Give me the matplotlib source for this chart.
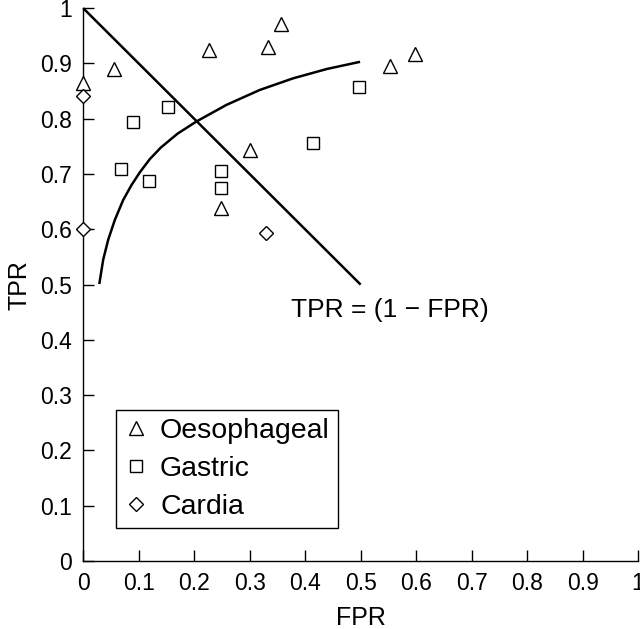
import matplotlib
matplotlib.use("Agg")
import matplotlib.pyplot as plt
from matplotlib.lines import Line2D

plt.rcParams['font.family'] = ['Liberation Sans', 'DejaVu Sans']

# ---- data ----
oeso_fpr = [0.0, 0.056, 0.227, 0.333, 0.356, 0.300, 0.249, 0.553, 0.598]
oeso_tpr = [0.864, 0.890, 0.925, 0.929, 0.972, 0.744, 0.638, 0.896, 0.917]

gastric_fpr = [0.153, 0.089, 0.069, 0.119, 0.249, 0.249, 0.414, 0.497]
gastric_tpr = [0.822, 0.794, 0.709, 0.688, 0.706, 0.674, 0.756, 0.857]

cardia_fpr = [0.0, 0.0, 0.330]
cardia_tpr = [0.841, 0.600, 0.594]

curve_fpr = [0.029, 0.036, 0.045, 0.057, 0.072, 0.087, 0.102, 0.120, 0.140,
             0.170, 0.204, 0.258, 0.318, 0.378, 0.439, 0.499]
curve_tpr = [0.501, 0.545, 0.581, 0.617, 0.653, 0.680, 0.703, 0.727, 0.748,
             0.773, 0.795, 0.825, 0.852, 0.873, 0.890, 0.903]

line_fpr = [0.0, 0.5]
line_tpr = [1.0, 0.5]

tick_vals = [0, 0.1, 0.2, 0.3, 0.4, 0.5, 0.6, 0.7, 0.8, 0.9, 1]
tick_labels = ['0', '0.1', '0.2', '0.3', '0.4', '0.5', '0.6', '0.7', '0.8', '0.9', '1']

# ---- figure ----
fig = plt.figure(figsize=(6.4, 6.29), dpi=100)
ax = fig.add_axes([0.130, 0.108, 0.867, 0.879])

ax.plot(line_fpr, line_tpr, color='black', lw=1.8, clip_on=False,
        solid_joinstyle='round', solid_capstyle='butt')
ax.plot(curve_fpr, curve_tpr, color='black', lw=1.8, clip_on=False,
        solid_joinstyle='round', solid_capstyle='butt')

mk = dict(linestyle='none', markerfacecolor='white', markeredgecolor='black',
          markeredgewidth=1.0)
ax.plot(oeso_fpr, oeso_tpr, marker='^', markersize=10.5, clip_on=False, zorder=3, **mk)
ax.plot(gastric_fpr, gastric_tpr, marker='s', markersize=9.2, clip_on=False, zorder=3, **mk)
ax.plot(cardia_fpr, cardia_tpr, marker='D', markersize=7.6, clip_on=False, zorder=3, **mk)

ax.text(0.375, 0.454, 'TPR = (1 \u2212 FPR)', fontsize=19, ha='left', va='center')

ax.set_xlim(0, 1)
ax.set_ylim(0, 1)
ax.set_xticks(tick_vals)
ax.set_xticklabels(tick_labels)
ax.set_yticks(tick_vals)
ax.set_yticklabels(tick_labels)
ax.tick_params(direction='in', length=8, width=1.0, labelsize=16.5, pad=8)
for s in ['top', 'right']:
    ax.spines[s].set_visible(False)
for s in ['left', 'bottom']:
    ax.spines[s].set_linewidth(1.0)

ax.set_xlabel('FPR', fontsize=18, labelpad=8)
ax.set_ylabel('TPR', fontsize=18, labelpad=6)

handles = [
    Line2D([], [], marker='^', markersize=9.5, **mk),
    Line2D([], [], marker='s', markersize=8.5, **mk),
    Line2D([], [], marker='D', markersize=7, **mk),
]
leg = ax.legend(handles, ['Oesophageal', 'Gastric', 'Cardia'], loc='lower left',
                bbox_to_anchor=(0.060, 0.060), borderaxespad=0, fontsize=20.5,
                fancybox=False, framealpha=1, edgecolor='black',
                handlelength=0.8, handletextpad=0.45, labelspacing=0.42,
                borderpad=0.28)
leg.get_frame().set_linewidth(1.0)

fig.savefig('out.png', dpi=100)
